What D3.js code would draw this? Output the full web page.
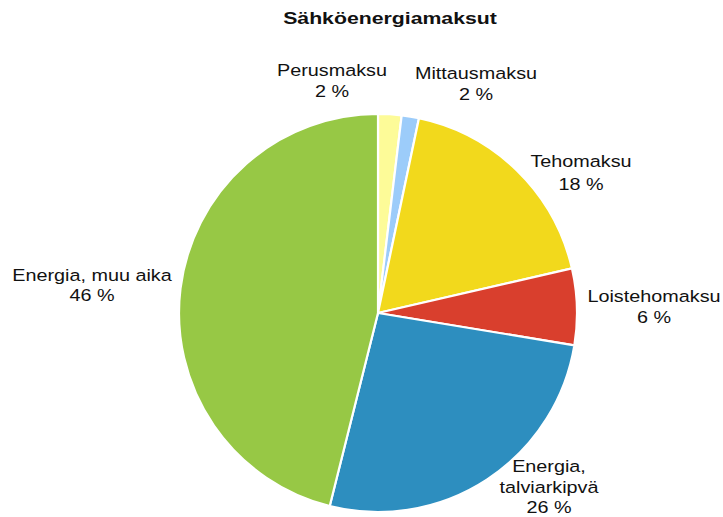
<!DOCTYPE html>
<html>
<head>
<meta charset="utf-8">
<script src="https://cdn.jsdelivr.net/npm/d3@7"></script>
<style>
  html, body { margin: 0; padding: 0; background: #fff; }
  svg text { font-family: "Liberation Sans", Arial, Helvetica, sans-serif; fill: #111; }
</style>
</head>
<body>
<div id="chart"></div>
<script>
// data
const categories = ['Perusmaksu', 'Mittausmaksu', 'Tehomaksu', 'Loistehomaksu', 'Energia, talviarkipvä', 'Energia, muu aika'];
const values = [1.9, 1.4, 18.1, 6.2, 26.3, 46.1];
const pctLabels = ['2 %', '2 %', '18 %', '6 %', '26 %', '46 %'];
const colors = ['#fdfb98', '#9cccfa', '#f2d91c', '#d93f2d', '#2d8ebf', '#97c845'];
const title = 'Sähköenergiamaksut';

// label layout (name lines + offset of first baseline from pie centre)
const labelLines = [['Perusmaksu'], ['Mittausmaksu'], ['Tehomaksu'], ['Loistehomaksu'], ['Energia,', 'talviarkipvä'], ['Energia, muu aika']];
const labelOffsets = [[-46, -237], [98, -234], [203, -146], [276, -11], [171, 159], [-286, -32]];
const labelLineHeights = [21, 21, 23, 21, 20.5, 20];

const width = 723,
      height = 517,
      cx = 378,
      cy = 313,
      radius = 199,
      stretch = 1.2;

const $svg = d3.select('#chart').append('svg')
  .attr('width', width)
  .attr('height', height);

const pie = d3.pie()
  .sort(null)
  .value(d => d.value);

const arc = d3.arc()
  .innerRadius(0)
  .outerRadius(radius);

const rows = categories.map((c, i) => ({ name: c, value: values[i], color: colors[i], pct: pctLabels[i] }));

const $g = $svg.append('g')
  .attr('transform', `translate(${cx}, ${cy})`);

$g.selectAll('.slice')
  .data(pie(rows))
  .enter()
  .append('path')
  .classed('slice', true)
  .attr('d', arc)
  .attr('fill', d => d.data.color)
  .attr('stroke', '#fff')
  .attr('stroke-width', 2.2)
  .attr('stroke-linejoin', 'round');

// title
$svg.append('text')
  .attr('transform', `translate(390, 24) scale(1.25, 1)`)
  .attr('text-anchor', 'middle')
  .style('font-size', '17px')
  .style('font-weight', 'bold')
  .text(title);

// labels
const $labels = $g.selectAll('.label')
  .data(rows)
  .enter()
  .append('g')
  .classed('label', true)
  .attr('transform', (d, i) => `translate(${labelOffsets[i][0]}, ${labelOffsets[i][1]})`);

$labels.each(function(d, i) {
  const lines = labelLines[i].concat([d.pct]);
  d3.select(this).selectAll('text')
    .data(lines)
    .enter()
    .append('text')
    .attr('transform', (t, j) => `translate(0, ${j * labelLineHeights[i]}) scale(${stretch}, 1)`)
    .attr('text-anchor', 'middle')
    .style('font-size', '16.5px')
    .text(t => t);
});
</script>
</body>
</html>
